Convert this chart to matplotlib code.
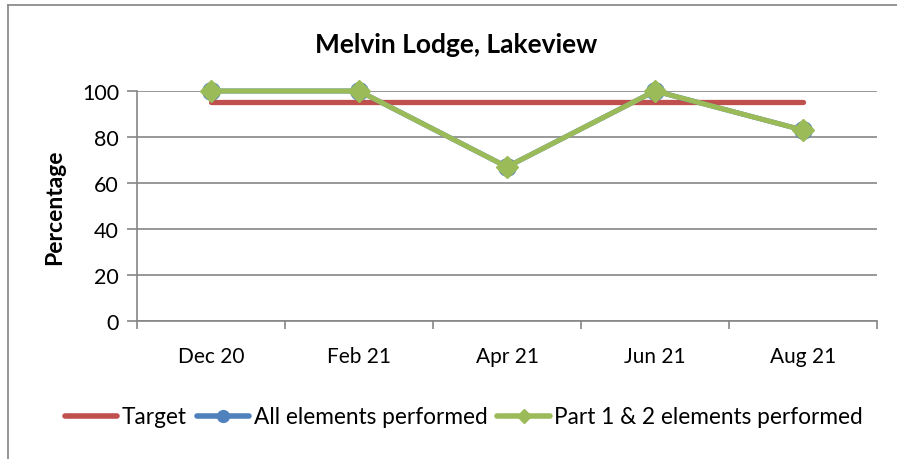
import matplotlib
matplotlib.use("Agg")
import matplotlib.pyplot as plt
from matplotlib.lines import Line2D
import numpy as np

plt.rcParams['font.family'] = ['Lato', 'DejaVu Sans']

months = ["Dec 20", "Feb 21", "Apr 21", "Jun 21", "Aug 21"]
target = [95, 95, 95, 95, 95]
all_elements = [100, 100, 67, 100, 83]
part_1_2 = [100, 100, 67, 100, 83]

RED = "#C0504D"
BLUE = "#4F81BD"
GREEN = "#9BBB59"
GRID = "#868686"

fig = plt.figure(figsize=(8.97, 4.60), dpi=100)
ax = fig.add_axes([137 / 897, 1 - 322 / 460, (877 - 137) / 897, (322 - 92) / 460])

x = np.arange(len(months))
ax.plot(x, target, color=RED, lw=3.8, solid_capstyle='round', zorder=3, clip_on=False)
ax.plot(x, all_elements, color=BLUE, lw=3.6, marker='o', ms=12.5,
        markerfacecolor=BLUE, markeredgecolor=BLUE, zorder=4, clip_on=False)
ax.plot(x, part_1_2, color=GREEN, lw=3.6, marker='D', ms=11,
        markerfacecolor=GREEN, markeredgecolor=GREEN, zorder=5, clip_on=False)

ax.set_xlim(-0.5, len(months) - 0.5)
ax.set_ylim(0, 100)
ax.set_yticks(range(0, 101, 20))
ax.yaxis.grid(True, color=GRID, lw=1.2)
ax.set_axisbelow(True)

ax.set_xticks(np.arange(-0.5, len(months), 1.0))
ax.set_xticklabels([])
ax.set_xticks(x, minor=True)
ax.set_xticklabels(months, minor=True)
ax.tick_params(axis='x', which='minor', length=0, pad=18, labelsize=15)
ax.tick_params(axis='x', which='major', length=6, color=GRID, width=1.2)
ax.tick_params(axis='y', length=7, color=GRID, width=1.2, labelsize=15.5, pad=6)

for side in ('top', 'right'):
    ax.spines[side].set_visible(False)
for side in ('left', 'bottom'):
    ax.spines[side].set_color(GRID)
    ax.spines[side].set_linewidth(1.2)

fig.text(456 / 897, 1 - 45 / 460, "Melvin Lodge, Lakeview", fontsize=19,
         fontweight='bold', ha='center', va='center')
ax.set_ylabel("Percentage", fontsize=16.5, fontweight='bold', labelpad=12)

handles = [
    Line2D([], [], color=RED, lw=4, solid_capstyle='round'),
    Line2D([], [], color=BLUE, lw=4, marker='o', ms=8.5, solid_capstyle='round'),
    Line2D([], [], color=GREEN, lw=4, marker='D', ms=7.5, solid_capstyle='round'),
]
fig.legend(handles, ["Target", "All elements performed", "Part 1 & 2 elements performed"],
           loc='center', bbox_to_anchor=(464 / 897, 1 - 418 / 460), ncol=3, frameon=False,
           fontsize=16.3, handlelength=2.3, handletextpad=0.2, columnspacing=0.45)

# outer chart frame (left and top edges)
fig.add_artist(Line2D([8 / 897, 8 / 897], [0, 1 - 6 / 460], transform=fig.transFigure,
                      color="#8C8C8C", lw=1.3))
fig.add_artist(Line2D([8 / 897, 1], [1 - 6 / 460, 1 - 6 / 460], transform=fig.transFigure,
                      color="#8C8C8C", lw=1.3))

fig.savefig("out.png", dpi=100)
